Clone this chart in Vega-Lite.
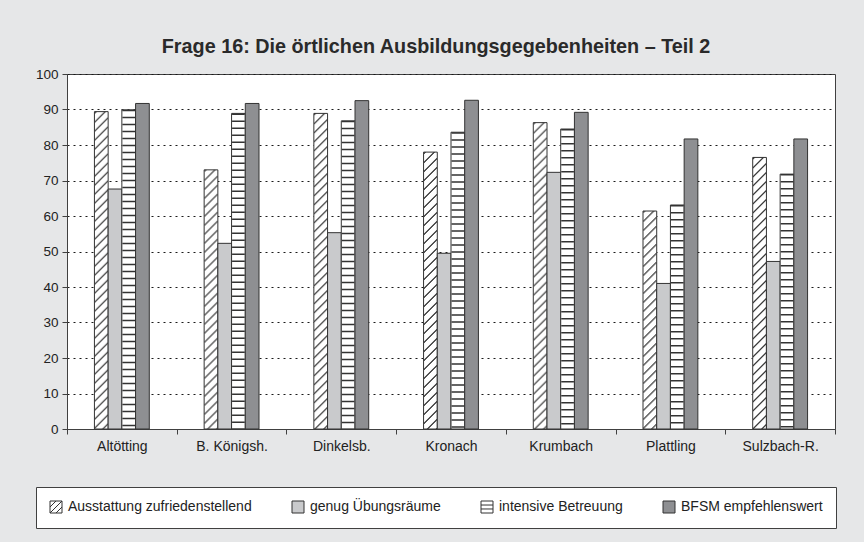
{
  "$schema": "https://vega.github.io/schema/vega-lite/v6.json",
  "autosize": {"type": "none"},
  "width": 768,
  "height": 355,
  "padding": {"left": 67, "top": 74, "right": 29, "bottom": 113},
  "background": "#e6e7e8",
  "title": {
    "text": "Frage 16: Die örtlichen Ausbildungsgegebenheiten – Teil 2",
    "font": "Liberation Sans",
    "fontSize": 19.8,
    "fontWeight": "bold",
    "color": "#2a2a2a",
    "anchor": "middle",
    "dx": -15,
    "offset": 10
  },
  "config": {
    "font": "Liberation Sans",
    "view": {"fill": "white", "stroke": "#404040", "strokeWidth": 1}
  },
  "datasets": {
    "d": [
      {"city": "Altötting", "series": "Ausstattung zufriedenstellend", "value": 89.4},
      {"city": "Altötting", "series": "genug Übungsräume", "value": 67.6},
      {"city": "Altötting", "series": "intensive Betreuung", "value": 89.9},
      {"city": "Altötting", "series": "BFSM empfehlenswert", "value": 91.7},
      {"city": "B. Königsh.", "series": "Ausstattung zufriedenstellend", "value": 73.0},
      {"city": "B. Königsh.", "series": "genug Übungsräume", "value": 52.3},
      {"city": "B. Königsh.", "series": "intensive Betreuung", "value": 88.9},
      {"city": "B. Königsh.", "series": "BFSM empfehlenswert", "value": 91.7},
      {"city": "Dinkelsb.", "series": "Ausstattung zufriedenstellend", "value": 88.9},
      {"city": "Dinkelsb.", "series": "genug Übungsräume", "value": 55.3},
      {"city": "Dinkelsb.", "series": "intensive Betreuung", "value": 86.8},
      {"city": "Dinkelsb.", "series": "BFSM empfehlenswert", "value": 92.5},
      {"city": "Kronach", "series": "Ausstattung zufriedenstellend", "value": 78.0},
      {"city": "Kronach", "series": "genug Übungsräume", "value": 49.5},
      {"city": "Kronach", "series": "intensive Betreuung", "value": 83.6},
      {"city": "Kronach", "series": "BFSM empfehlenswert", "value": 92.6},
      {"city": "Krumbach", "series": "Ausstattung zufriedenstellend", "value": 86.3},
      {"city": "Krumbach", "series": "genug Übungsräume", "value": 72.3},
      {"city": "Krumbach", "series": "intensive Betreuung", "value": 84.5},
      {"city": "Krumbach", "series": "BFSM empfehlenswert", "value": 89.2},
      {"city": "Plattling", "series": "Ausstattung zufriedenstellend", "value": 61.4},
      {"city": "Plattling", "series": "genug Übungsräume", "value": 41.0},
      {"city": "Plattling", "series": "intensive Betreuung", "value": 63.1},
      {"city": "Plattling", "series": "BFSM empfehlenswert", "value": 81.7},
      {"city": "Sulzbach-R.", "series": "Ausstattung zufriedenstellend", "value": 76.5},
      {"city": "Sulzbach-R.", "series": "genug Übungsräume", "value": 47.2},
      {"city": "Sulzbach-R.", "series": "intensive Betreuung", "value": 71.8},
      {"city": "Sulzbach-R.", "series": "BFSM empfehlenswert", "value": 81.7}
    ]
  },
  "data": {"name": "d"},
  "encoding": {
    "x": {
      "field": "city", "type": "nominal",
      "scale": {"domain": ["Altötting", "B. Königsh.", "Dinkelsb.", "Kronach", "Krumbach", "Plattling", "Sulzbach-R."], "paddingInner": 0, "paddingOuter": 0},
      "axis": {
        "title": null, "labelAngle": 0, "labelFontSize": 14, "labelColor": "#222222", "labelPadding": 5,
        "domainColor": "#404040", "tickColor": "#404040", "tickSize": 5, "tickBand": "extent", "grid": false
      }
    },
    "y": {
      "field": "value", "type": "quantitative",
      "scale": {"domain": [0, 100], "nice": false},
      "axis": {
        "title": null, "values": [0, 10, 20, 30, 40, 50, 60, 70, 80, 90, 100],
        "labelFontSize": 13.5, "labelColor": "#222222", "labelPadding": 4,
        "domainColor": "#404040", "tickColor": "#404040", "tickSize": 5,
        "grid": true, "gridColor": "#1a1a1a", "gridDash": [2, 4], "gridWidth": 1
      }
    }
  },
  "layer": [
    {
      "mark": {"type": "bar", "stroke": "#333333", "strokeWidth": 1},
      "encoding": {
        "xOffset": {
          "field": "series", "type": "nominal",
          "scale": {"domain": ["_pad1", "_pad2", "Ausstattung zufriedenstellend", "genug Übungsräume", "intensive Betreuung", "BFSM empfehlenswert", "_pad3", "_pad4"], "paddingInner": 0, "paddingOuter": 0}
        },
        "fill": {
          "field": "series", "type": "nominal",
          "scale": {"domain": ["Ausstattung zufriedenstellend", "genug Übungsräume", "intensive Betreuung", "BFSM empfehlenswert"], "range": ["#ffffff", "#c9cacc", "#ffffff", "#8e8f92"]},
          "legend": {
            "title": null, "orient": "none", "legendX": -31, "legendY": 413,
            "direction": "horizontal", "columns": 4,
            "fillColor": "#ffffff", "strokeColor": "#404040", "padding": 13,
            "symbolSize": 144, "symbolStrokeColor": "#333333", "symbolStrokeWidth": 1, "symbolType": "square",
            "labelFontSize": 14, "labelColor": "#222222", "labelOffset": 5, "labelLimit": 400, "columnPadding": 38,
            "encode": {
              "symbols": {
                "update": {
                  "shape": {"signal": "datum.value === 'Ausstattung zufriedenstellend' ? 'M-1,-1H1V1H-1Z M-1,0L0,-1 M-1,1L1,-1 M0,1L1,0' : datum.value === 'intensive Betreuung' ? 'M-1,-1H1V1H-1Z M-1,-0.33H1 M-1,0.33H1' : 'square'"}
                }
              }
            }
          }
        }
      }
    },
    {
      "transform": [{"filter": "datum.series === 'intensive Betreuung'"}],
      "mark": {"type": "rule", "color": "#333333", "strokeWidth": 12.7, "strokeDash": [1.5, 5.5]},
      "encoding": {
        "xOffset": {
          "field": "series", "type": "nominal",
          "scale": {"domain": ["_pad1", "_pad2", "Ausstattung zufriedenstellend", "genug Übungsräume", "intensive Betreuung", "BFSM empfehlenswert", "_pad3", "_pad4"], "paddingInner": 0, "paddingOuter": 0}
        },
        "y2": {"datum": 0}
      }
    },
    {
      "transform": [{"filter": "datum.series === 'Ausstattung zufriedenstellend'"}],
      "encoding": {"y2": {"datum": 0}},
      "layer": [
        {"mark": {"type": "rule", "color": "#333333", "strokeWidth": 1, "strokeDash": [1.8, 7.2], "strokeDashOffset": 0}, "encoding": {"x": {"field": "city", "type": "nominal", "bandPosition": 0.25785}}},
        {"mark": {"type": "rule", "color": "#333333", "strokeWidth": 1, "strokeDash": [1.8, 7.2], "strokeDashOffset": 1}, "encoding": {"x": {"field": "city", "type": "nominal", "bandPosition": 0.26697}}},
        {"mark": {"type": "rule", "color": "#333333", "strokeWidth": 1, "strokeDash": [1.8, 7.2], "strokeDashOffset": 2}, "encoding": {"x": {"field": "city", "type": "nominal", "bandPosition": 0.27608}}},
        {"mark": {"type": "rule", "color": "#333333", "strokeWidth": 1, "strokeDash": [1.8, 7.2], "strokeDashOffset": 3}, "encoding": {"x": {"field": "city", "type": "nominal", "bandPosition": 0.28520}}},
        {"mark": {"type": "rule", "color": "#333333", "strokeWidth": 1, "strokeDash": [1.8, 7.2], "strokeDashOffset": 4}, "encoding": {"x": {"field": "city", "type": "nominal", "bandPosition": 0.29431}}},
        {"mark": {"type": "rule", "color": "#333333", "strokeWidth": 1, "strokeDash": [1.8, 7.2], "strokeDashOffset": 5}, "encoding": {"x": {"field": "city", "type": "nominal", "bandPosition": 0.30343}}},
        {"mark": {"type": "rule", "color": "#333333", "strokeWidth": 1, "strokeDash": [1.8, 7.2], "strokeDashOffset": 6}, "encoding": {"x": {"field": "city", "type": "nominal", "bandPosition": 0.31254}}},
        {"mark": {"type": "rule", "color": "#333333", "strokeWidth": 1, "strokeDash": [1.8, 7.2], "strokeDashOffset": 7}, "encoding": {"x": {"field": "city", "type": "nominal", "bandPosition": 0.32166}}},
        {"mark": {"type": "rule", "color": "#333333", "strokeWidth": 1, "strokeDash": [1.8, 7.2], "strokeDashOffset": 8}, "encoding": {"x": {"field": "city", "type": "nominal", "bandPosition": 0.33077}}},
        {"mark": {"type": "rule", "color": "#333333", "strokeWidth": 1, "strokeDash": [1.8, 7.2], "strokeDashOffset": 9}, "encoding": {"x": {"field": "city", "type": "nominal", "bandPosition": 0.33989}}},
        {"mark": {"type": "rule", "color": "#333333", "strokeWidth": 1, "strokeDash": [1.8, 7.2], "strokeDashOffset": 10}, "encoding": {"x": {"field": "city", "type": "nominal", "bandPosition": 0.34900}}},
        {"mark": {"type": "rule", "color": "#333333", "strokeWidth": 1, "strokeDash": [1.8, 7.2], "strokeDashOffset": 11}, "encoding": {"x": {"field": "city", "type": "nominal", "bandPosition": 0.35812}}},
        {"mark": {"type": "rule", "color": "#333333", "strokeWidth": 1, "strokeDash": [1.8, 7.2], "strokeDashOffset": 12}, "encoding": {"x": {"field": "city", "type": "nominal", "bandPosition": 0.36723}}}
      ]
    }
  ]
}
